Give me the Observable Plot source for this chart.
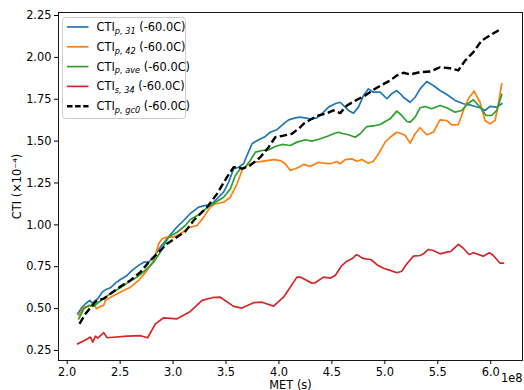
<!DOCTYPE html>
<html><head><meta charset="utf-8">
<script src="https://cdn.jsdelivr.net/npm/d3@7"></script>
<script src="https://cdn.jsdelivr.net/npm/@observablehq/plot@0.6"></script>
<style>
body{margin:0;background:#fff;}
#wrap{position:relative;width:524px;height:390px;overflow:hidden;}
#legend{position:absolute;left:0;top:0;}
</style></head><body><div id="wrap"></div>
<script>
// MET in units of 1e8 s, CTI in units of 1e-4
const p31_met = [2.100,2.142,2.173,2.213,2.236,2.267,2.289,2.330,2.361,2.408,2.456,2.503,2.566,2.613,2.675,2.723,2.770,2.817,2.880,2.943,3.022,3.100,3.163,3.242,3.305,3.352,3.415,3.477,3.525,3.572,3.619,3.666,3.698,3.745,3.808,3.871,3.918,3.981,4.043,4.091,4.154,4.201,4.295,4.358,4.421,4.468,4.531,4.578,4.609,4.657,4.704,4.751,4.798,4.845,4.892,4.956,5.019,5.066,5.113,5.144,5.175,5.239,5.286,5.333,5.396,5.458,5.521,5.585,5.663,5.742,5.821,5.899,5.946,5.993,6.057,6.104];
const p31_cti = [0.469,0.509,0.529,0.549,0.533,0.549,0.559,0.598,0.612,0.624,0.652,0.674,0.698,0.728,0.758,0.777,0.777,0.807,0.867,0.917,0.977,1.026,1.068,1.106,1.116,1.116,1.156,1.195,1.255,1.335,1.344,1.365,1.414,1.484,1.508,1.528,1.553,1.568,1.603,1.627,1.639,1.643,1.633,1.639,1.673,1.703,1.723,1.732,1.713,1.683,1.667,1.703,1.772,1.812,1.792,1.792,1.753,1.783,1.802,1.784,1.762,1.732,1.762,1.812,1.856,1.832,1.802,1.778,1.743,1.723,1.713,1.699,1.683,1.707,1.703,1.723];

const p42_met = [2.109,2.157,2.204,2.251,2.276,2.314,2.345,2.361,2.440,2.534,2.597,2.675,2.755,2.817,2.864,2.896,2.943,3.006,3.069,3.147,3.226,3.289,3.352,3.399,3.477,3.541,3.604,3.651,3.698,3.760,3.824,3.887,3.949,4.012,4.059,4.107,4.154,4.201,4.232,4.295,4.374,4.421,4.484,4.547,4.578,4.625,4.689,4.736,4.783,4.845,4.892,4.940,5.003,5.050,5.113,5.160,5.192,5.239,5.286,5.333,5.396,5.458,5.521,5.585,5.632,5.694,5.742,5.789,5.842,5.899,5.946,5.993,6.041,6.072,6.104];
const p42_cti = [0.459,0.509,0.513,0.529,0.499,0.513,0.519,0.549,0.578,0.608,0.628,0.668,0.728,0.787,0.887,0.917,0.927,0.927,0.947,0.983,0.996,1.046,1.106,1.126,1.135,1.165,1.245,1.325,1.355,1.374,1.378,1.384,1.390,1.384,1.365,1.325,1.335,1.349,1.361,1.349,1.374,1.368,1.365,1.378,1.365,1.389,1.394,1.380,1.390,1.368,1.380,1.424,1.494,1.523,1.553,1.544,1.533,1.488,1.544,1.580,1.538,1.553,1.627,1.623,1.597,1.599,1.683,1.753,1.798,1.732,1.623,1.603,1.623,1.723,1.842];

const ave_met = [2.109,2.157,2.204,2.251,2.298,2.361,2.408,2.487,2.566,2.660,2.755,2.817,2.880,2.958,3.038,3.116,3.163,3.258,3.336,3.399,3.477,3.541,3.588,3.635,3.682,3.729,3.777,3.840,3.902,3.965,4.028,4.107,4.170,4.248,4.311,4.390,4.453,4.515,4.562,4.609,4.657,4.720,4.767,4.830,4.908,4.956,5.003,5.050,5.113,5.160,5.208,5.239,5.286,5.333,5.380,5.443,5.521,5.585,5.663,5.726,5.774,5.836,5.899,5.956,6.009,6.057,6.104];
const ave_cti = [0.439,0.499,0.519,0.513,0.538,0.568,0.589,0.618,0.652,0.688,0.738,0.777,0.837,0.927,0.956,0.996,1.032,1.066,1.110,1.135,1.165,1.215,1.295,1.335,1.344,1.384,1.434,1.444,1.448,1.468,1.480,1.474,1.494,1.508,1.500,1.514,1.528,1.544,1.553,1.544,1.538,1.523,1.544,1.587,1.593,1.599,1.617,1.633,1.679,1.653,1.617,1.613,1.643,1.699,1.707,1.693,1.713,1.699,1.673,1.683,1.719,1.747,1.703,1.653,1.653,1.683,1.778];

const s34_met = [2.100,2.163,2.220,2.242,2.267,2.289,2.345,2.377,2.566,2.692,2.760,2.833,2.911,3.038,3.163,3.274,3.368,3.446,3.572,3.651,3.760,3.840,3.949,4.043,4.170,4.201,4.311,4.342,4.421,4.484,4.531,4.594,4.642,4.689,4.729,4.751,4.783,4.814,4.868,4.925,4.987,5.050,5.113,5.160,5.208,5.270,5.333,5.364,5.411,5.458,5.521,5.585,5.623,5.694,5.736,5.795,5.836,5.930,5.987,6.025,6.088,6.119];
const s34_cti = [0.290,0.310,0.330,0.300,0.335,0.323,0.356,0.326,0.335,0.338,0.326,0.409,0.445,0.439,0.483,0.549,0.565,0.568,0.513,0.503,0.535,0.538,0.515,0.568,0.688,0.688,0.652,0.654,0.688,0.682,0.698,0.757,0.783,0.797,0.821,0.817,0.803,0.797,0.793,0.762,0.741,0.728,0.714,0.723,0.768,0.813,0.817,0.827,0.853,0.847,0.827,0.837,0.841,0.883,0.863,0.823,0.833,0.813,0.833,0.817,0.771,0.771];

const gc0_met = [2.116,2.173,2.251,2.283,2.345,2.408,2.503,2.597,2.692,2.770,2.849,2.943,3.038,3.116,3.194,3.321,3.415,3.509,3.572,3.619,3.651,3.729,3.824,3.902,3.965,4.043,4.123,4.201,4.232,4.311,4.374,4.453,4.515,4.578,4.642,4.736,4.814,4.892,4.972,5.050,5.113,5.175,5.239,5.333,5.427,5.521,5.616,5.694,5.758,5.836,5.915,5.993,6.072,6.104];
const gc0_cti = [0.409,0.469,0.529,0.549,0.559,0.589,0.632,0.668,0.718,0.777,0.827,0.887,0.927,0.961,1.026,1.106,1.185,1.285,1.344,1.344,1.335,1.355,1.404,1.464,1.523,1.533,1.544,1.583,1.603,1.633,1.653,1.667,1.683,1.667,1.713,1.747,1.772,1.806,1.836,1.862,1.892,1.908,1.898,1.912,1.916,1.941,1.935,1.922,1.981,2.031,2.101,2.131,2.161,2.171];

const seriesNames = ["p, 31", "p, 42", "p, ave", "s, 34", "p, gc0"];
const seriesColors = ["#1f77b4", "#ff7f0e", "#2ca02c", "#d62728", "#000000"];
const seriesSuffix = " (-60.0C)";
const xTicks = [2.0, 2.5, 3.0, 3.5, 4.0, 4.5, 5.0, 5.5, 6.0];
const yTicks = [0.25, 0.50, 0.75, 1.00, 1.25, 1.50, 1.75, 2.00, 2.25];
const xLabel = "MET (s)";
const yLabel = "CTI (×10⁻⁴)";
const xOffsetText = "1e8";

const metArrays = [p31_met, p42_met, ave_met, s34_met, gc0_met];
const ctiArrays = [p31_cti, p42_cti, ave_cti, s34_cti, gc0_cti];
const tables = metArrays.map((m, i) => m.map((x, j) => ({met: x, cti: ctiArrays[i][j]})));

const FONT = "DejaVu Sans, sans-serif";
const lineMarks = tables.map((t, i) => Plot.line(t, {
  x: "met", y: "cti",
  stroke: seriesColors[i],
  strokeWidth: i === 4 ? 2.4 : 1.7,
  strokeDasharray: i === 4 ? "7.5,3.4" : null,
  strokeLinejoin: "round", strokeLinecap: i === 4 ? "butt" : "square"
}));

const chart = Plot.plot({
  width: 524, height: 390,
  marginLeft: 58, marginRight: 2, marginTop: 12, marginBottom: 30,
  style: {fontFamily: FONT, fontSize: "11.4px", color: "#000", background: "#fff", overflow: "visible"},
  x: {domain: [1.918, 6.30]},
  y: {domain: [0.19, 2.268]},
  marks: [
    Plot.axisX({ticks: xTicks, tickFormat: d3.format(".1f"), tickSize: 4, tickPadding: 3, label: xLabel, labelAnchor: "center", labelArrow: "none", labelOffset: 28, fontSize: 11.4}),
    Plot.axisY({ticks: yTicks, tickFormat: d3.format(".2f"), tickSize: 4, tickPadding: 3, label: yLabel, labelAnchor: "center", labelArrow: "none", labelOffset: 46, fontSize: 11.4}),
    ...lineMarks,
    Plot.frame({stroke: "#000", strokeWidth: 0.9}),
    Plot.text([xOffsetText], {frameAnchor: "bottom-right", dy: 21, textAnchor: "end", fontSize: 11.4})
  ]
});
const wrap = document.getElementById("wrap");
wrap.appendChild(chart);

// Legend overlay (matplotlib-style, upper left)
const ns = "http://www.w3.org/2000/svg";
const lg = document.createElementNS(ns, "svg");
lg.setAttribute("id", "legend");
lg.setAttribute("width", 524); lg.setAttribute("height", 390);
const box = document.createElementNS(ns, "rect");
Object.entries({x: 62.5, y: 17.5, width: 123, height: 101, rx: 3, fill: "#fff", "fill-opacity": 0.8, stroke: "#cccccc", "stroke-width": 1}).forEach(([k, v]) => box.setAttribute(k, v));
lg.appendChild(box);
seriesNames.forEach((name, i) => {
  const cy = 27 + i * 19.8;
  const ln = document.createElementNS(ns, "line");
  Object.entries({x1: 67, x2: 88.5, y1: cy, y2: cy, stroke: seriesColors[i], "stroke-width": i === 4 ? 2.4 : 1.7, "stroke-dasharray": i === 4 ? "5.5,2.6" : "none"}).forEach(([k, v]) => ln.setAttribute(k, v));
  lg.appendChild(ln);
  const tx = document.createElementNS(ns, "text");
  tx.setAttribute("x", 96.5); tx.setAttribute("y", cy + 4);
  tx.setAttribute("font-family", FONT); tx.setAttribute("font-size", 11.4);
  const t1 = document.createElementNS(ns, "tspan"); t1.textContent = "CTI";
  const t2 = document.createElementNS(ns, "tspan"); t2.textContent = name;
  t2.setAttribute("font-size", 8.2); t2.setAttribute("font-style", "italic"); t2.setAttribute("dy", 2.8);
  const t3 = document.createElementNS(ns, "tspan"); t3.textContent = seriesSuffix; t3.setAttribute("dy", -2.8);
  tx.appendChild(t1); tx.appendChild(t2); tx.appendChild(t3);
  lg.appendChild(tx);
});
wrap.appendChild(lg);
</script></body></html>
